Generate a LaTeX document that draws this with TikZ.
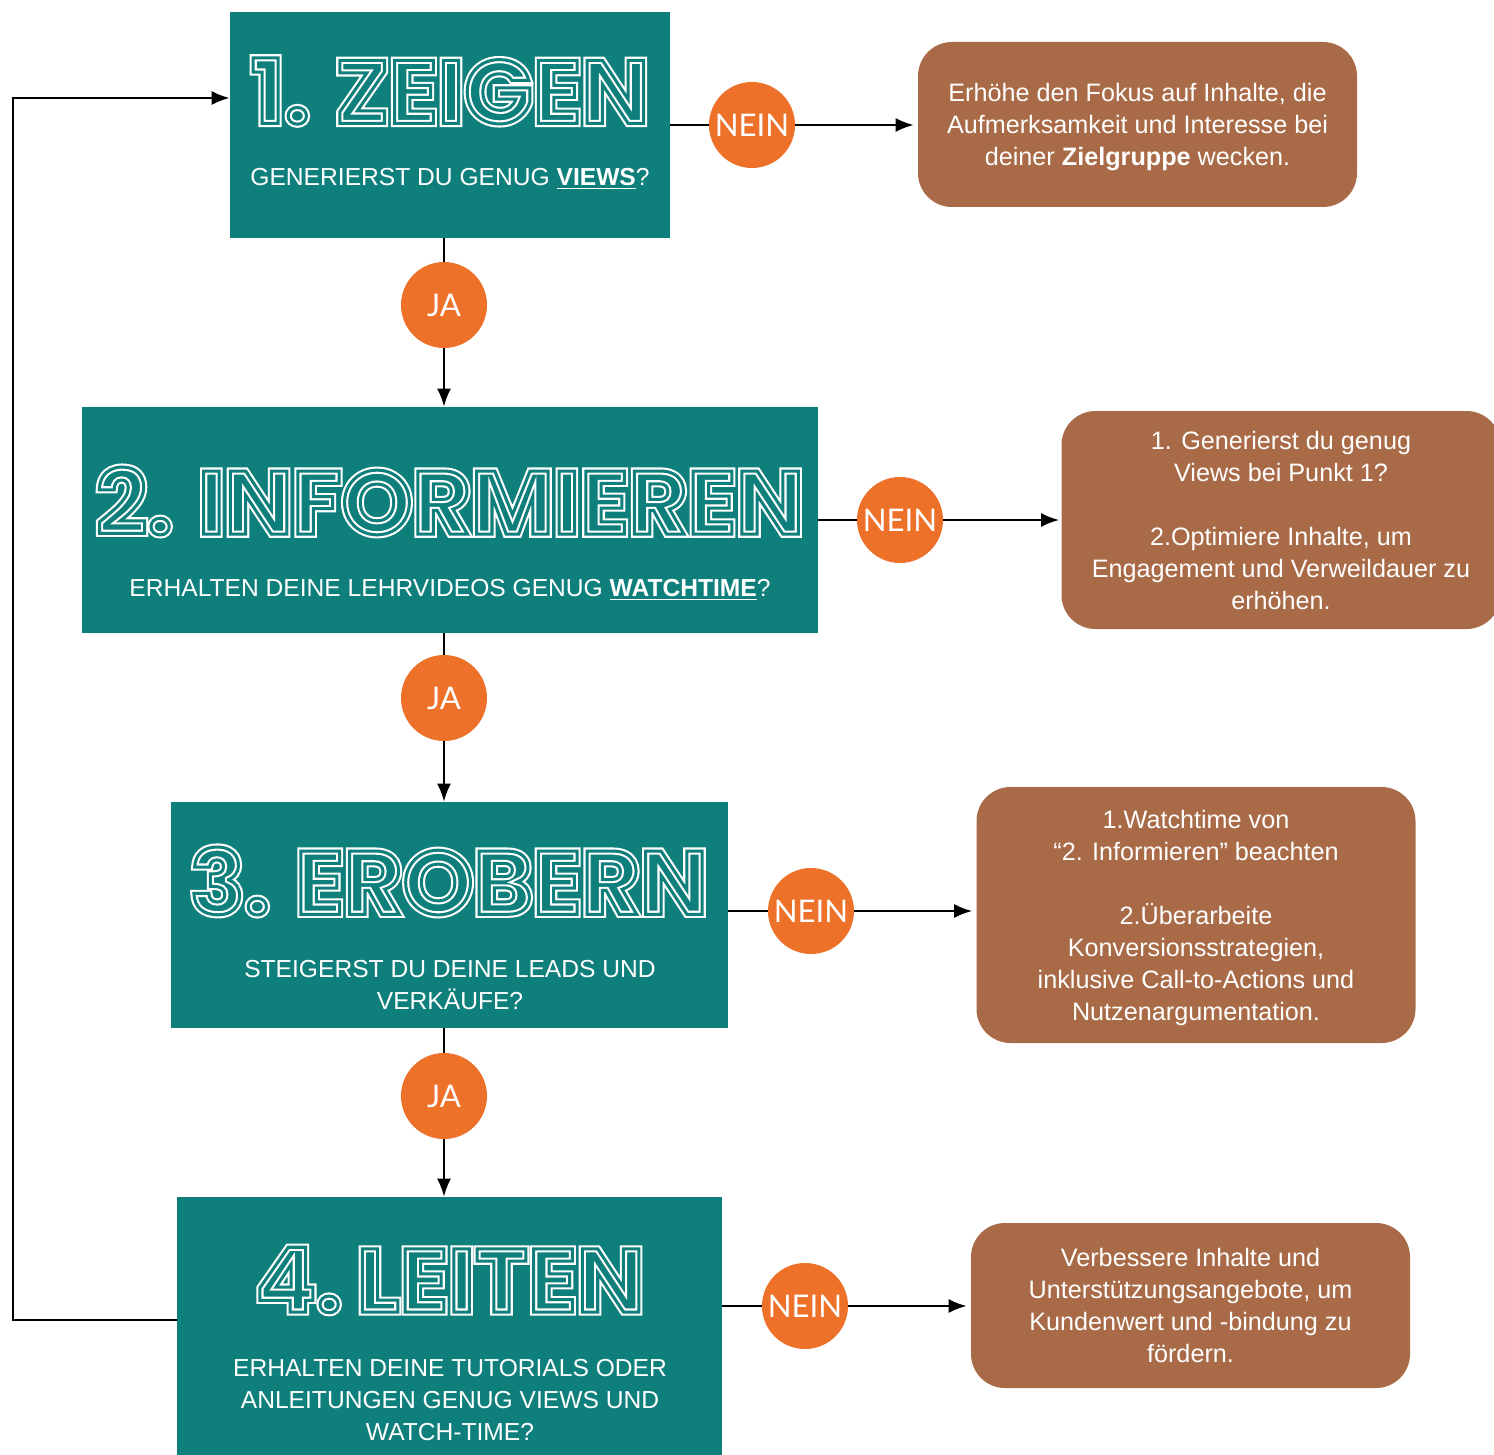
\documentclass[tikz,border=0pt]{standalone}
\usepackage{fontspec}
\setmainfont{Liberation Sans}
\newfontfamily\kreisfont{Lato}
\newfontfamily\titelfont{Poppins}
\usetikzlibrary{arrows.meta,positioning}

\definecolor{petrol}{HTML}{0F7F7C}
\definecolor{rost}{HTML}{A96B47}
\definecolor{signal}{HTML}{ED7128}

% hollow, striped look for the big headings (outline drawn twice)
\newcommand\kontur[3]{\special{pdf:literal direct 1 Tr #1 w #2 RG}#3\special{pdf:literal direct 0 Tr 0 G 1 w}}
\newcommand\gestreift[1]{%
  \rlap{\kontur{3.6}{1 1 1}{#1}}\kontur{1.5}{0.059 0.498 0.486}{#1}}

\tikzset{
  phase/.style={fill=petrol, inner sep=0, minimum height=113pt},
  titel/.style={inner sep=0, font=\titelfont\bfseries\fontsize{45}{45}\selectfont},
  frage/.style={inner sep=0, text=white, align=center, font=\fontsize{12.3}{16}\selectfont},
  tipp/.style={fill=rost, rounded corners=17pt, inner sep=0, minimum width=219.5pt,
    text=white, align=center, text depth=0pt, font=\fontsize{12.6}{16}\selectfont},
  antwort/.style={circle, fill=signal, minimum size=43pt, inner sep=0, text=white,
    font=\kreisfont\fontsize{15.6}{17}\selectfont},
  pfeil/.style={-{Latex[length=9pt,width=7pt]}, line width=1pt},
  linie/.style={line width=1pt}
}

\begin{document}
\begin{tikzpicture}[x=0.5pt, y=-0.5pt]
  \useasboundingbox (0,0) rectangle (1494,1455);

  % phases
  \node[phase, minimum width=220pt] (z1) at (450,125) {};
  \node[phase, minimum width=368pt] (z2) at (450,520) {};
  \node[phase, minimum width=278.5pt] (z3) at (449.5,915) {};
  \node[phase, minimum width=272.5pt, minimum height=133pt] (z4) at (449.5,1330) {};

  \node[titel] (t1) at (450,91) {\gestreift{1. ZEIGEN}};
  \node[titel] (t2) at (450,501) {\gestreift{2. INFORMIEREN}};
  \node[titel] (t3) at (449,881) {\gestreift{3. EROBERN}};
  \node[titel] (t4) at (450,1280) {\gestreift{4.\,LEITEN}};

  \node[frage] (f1) at (450,179) {GENERIERST DU GENUG \underline{\textbf{VIEWS}}?};
  \node[frage] (f2) at (450,590) {ERHALTEN DEINE LEHRVIDEOS GENUG \underline{\textbf{WATCHTIME}}?};
  \node[frage] (f3) at (450,985) {STEIGERST DU DEINE LEADS UND\\VERKÄUFE?};
  \node[frage] (f4) at (450,1400) {ERHALTEN DEINE TUTORIALS ODER\\ANLEITUNGEN GENUG VIEWS UND\\WATCH-TIME?};

  % tips
  \node[tipp, minimum height=82.5pt] (b1) at (1137.5,124.5)
    {Erhöhe den Fokus auf Inhalte, die\\Aufmerksamkeit und Interesse bei\\deiner \textbf{Zielgruppe} wecken.};
  \node[tipp, minimum height=109pt] (b2) at (1281,520)
    {1. Generierst du genug\\Views bei Punkt 1?\\[16pt]2.Optimiere Inhalte, um\\Engagement und Verweildauer zu\\erhöhen.};
  \node[tipp, minimum height=128pt] (b3) at (1196,915)
    {1.Watchtime von\\“2. Informieren” beachten\\[16pt]2.Überarbeite\\Konversionsstrategien,\\inklusive Call-to-Actions und\\Nutzenargumentation.};
  \node[tipp, minimum height=82.5pt] (b4) at (1190.5,1305.5)
    {Verbessere Inhalte und\\Unterstützungsangebote, um\\Kundenwert und -bindung zu\\fördern.};

  % answers
  \node[antwort] (ja1) at (444,305) {JA};
  \node[antwort] (ja2) at (444,698) {JA};
  \node[antwort] (ja3) at (444,1096) {JA};
  \node[antwort] (nein1) at (752,125) {NEIN};
  \node[antwort] (nein2) at (900,520) {NEIN};
  \node[antwort] (nein3) at (811,911) {NEIN};
  \node[antwort] (nein4) at (805,1306) {NEIN};

  \draw[linie] (z1.south -| ja1) -- (ja1);
  \draw[pfeil] (ja1) -- (z2.north -| ja1);
  \draw[linie] (z2.south -| ja2) -- (ja2);
  \draw[pfeil] (ja2) -- (z3.north -| ja2);
  \draw[linie] (z3.south -| ja3) -- (ja3);
  \draw[pfeil] (ja3) -- (z4.north -| ja3);

  \draw[linie] (z1.east |- nein1) -- (nein1);
  \draw[pfeil] (nein1) -- ([xshift=-2pt]b1.west |- nein1);
  \draw[linie] (z2.east |- nein2) -- (nein2);
  \draw[pfeil] (nein2) -- ([xshift=-1pt]b2.west |- nein2);
  \draw[linie] (z3.east |- nein3) -- (nein3);
  \draw[pfeil] (nein3) -- ([xshift=-2pt]b3.west |- nein3);
  \draw[linie] (z4.east |- nein4) -- (nein4);
  \draw[pfeil] (nein4) -- ([xshift=-2pt]b4.west |- nein4);

  % back to the start
  \coordinate (rueck) at (13,0);
  \draw[pfeil] ([yshift=5pt]z4.west) -- ([yshift=5pt]z4.west -| rueck)
    |- ([yshift=13.5pt]z1.west);
\end{tikzpicture}
\end{document}
